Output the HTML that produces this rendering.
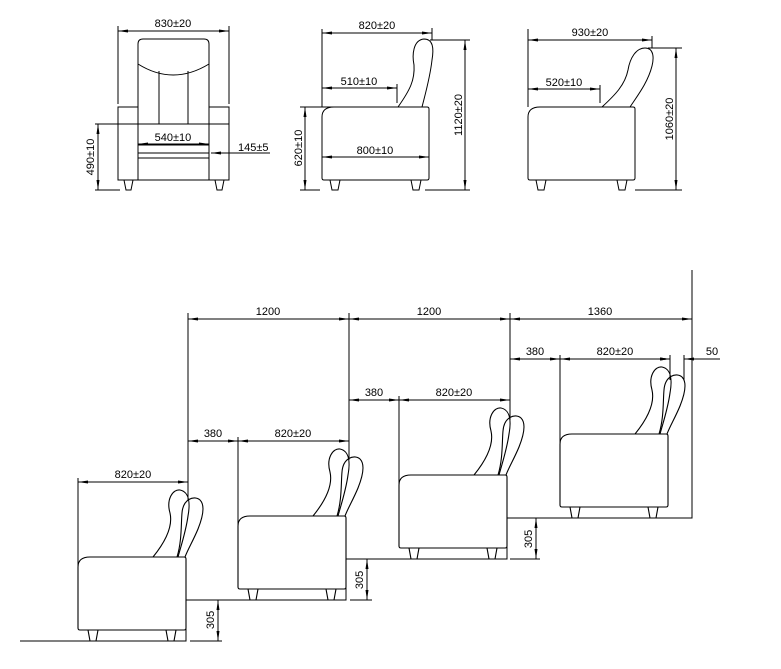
<!DOCTYPE html>
<html><head><meta charset="utf-8"><style>html,body{margin:0;padding:0;background:#fff}svg{display:block}text{font-family:"Liberation Sans",sans-serif;font-size:11px;fill:#000}</style></head><body>
<svg width="781" height="669" viewBox="0 0 781 669" xmlns="http://www.w3.org/2000/svg">
<defs>
<marker id="a" viewBox="0 0 10 4" refX="10" refY="2" markerWidth="10" markerHeight="4" orient="auto-start-reverse" markerUnits="userSpaceOnUse"><path d="M0,0.5 L10,2 L0,3.5z" fill="#000"/></marker>
<g id="chair" fill="none" stroke="#000" stroke-width="1.1">
<path d="M0,-74 Q0,-84 12,-84 L106,-84 Q108,-84 108,-82 L108,-13 Q108,-11 106,-11 L2,-11 Q0,-11 0,-13 Z"/>
<path d="M10,-11 L12,0 L18,0 L20,-11 M88,-11 L90,0 L96,0 L98,-11"/>
<path d="M75,-84 C88,-100 95,-115 92,-128 C88,-142 95,-152 102,-151 C112,-149 112,-136 110,-125 C108,-110 103,-95 100,-84"/>
<path d="M99,-84 C104,-100 103,-118 104,-128 C105,-142 116,-146 122,-141 C128,-135 124,-122 120,-112 C115,-100 110,-92 107,-84"/>
</g>
</defs>
<g fill="none" stroke="#000" stroke-width="1">
<!-- front view -->
<path d="M138,124 L138,44 Q138,39 143,39 L204,39 Q209,39 209,44 L209,124"/>
<path d="M138,64 Q173,86 209,64"/>
<path d="M159,71 L159,124 M188,71 L188,124"/>
<rect x="118" y="107" width="20" height="73"/><rect x="209" y="107" width="20" height="73"/>
<path d="M118,124 L138,124 M209,124 L229,124"/>
<path d="M138,124 L209,124 L209,180 L138,180 Z M138,145 L209,145 M138,153 L209,153 M138,158 L209,158"/>
<path d="M124,180 L126,190 L131,190 L133,180 M215,180 L217,190 L222,190 L224,180"/>
<path d="M118,104 L118,26 M229,104 L229,26"/>
<path d="M118,31 L229,31" marker-start="url(#a)" marker-end="url(#a)"/>
<path d="M95,124 L138,124 M95,190 L120,190"/>
<path d="M98,124 L98,190" marker-start="url(#a)" marker-end="url(#a)"/>
<path d="M138,144 L209,144" marker-start="url(#a)" marker-end="url(#a)"/>
<path d="M270,153 L211,153" marker-end="url(#a)"/>
<!-- side view 1 -->
<path d="M322,117 Q322,107 334,107 L427,107 Q429,107 429,109 L429,178 Q429,180 427,180 L324,180 Q322,180 322,178 Z"/>
<path d="M330,180 L332,190 L338,190 L340,180 M411,180 L413,190 L419,190 L421,180"/>
<path d="M398,107 C410,90 415,80 414,65 C412,55 413,40 424,39 C433,39 434,48 432,60 C430,78 425,95 422,107"/>
<path d="M322,107 L322,29 M432,40 L432,28 M397,84 L397,103"/>
<path d="M322,33 L432,33" marker-start="url(#a)" marker-end="url(#a)"/>
<path d="M322,88 L397,88" marker-start="url(#a)" marker-end="url(#a)"/>
<path d="M322,157 L429,157" marker-start="url(#a)" marker-end="url(#a)"/>
<path d="M300,107 L340,107 M300,190 L320,190"/>
<path d="M305,107 L305,190" marker-start="url(#a)" marker-end="url(#a)"/>
<path d="M430,40 L470,40 M425,190 L470,190"/>
<path d="M465,40 L465,190" marker-start="url(#a)" marker-end="url(#a)"/>
<!-- side view 2 -->
<path d="M528,117 Q528,107 540,107 L633,107 Q635,107 635,109 L635,178 Q635,180 633,180 L530,180 Q528,180 528,178 Z"/>
<path d="M536,180 L538,190 L544,190 L546,180 M617,180 L619,190 L625,190 L627,180"/>
<path d="M602,107 C615,95 625,85 628,70 C630,58 636,48 645,48 C654,48 654,58 652,66 C648,82 638,95 630,107"/>
<path d="M528,107 L528,29 M652,48 L652,36 M600,85 L600,103"/>
<path d="M528,40 L652,40" marker-start="url(#a)" marker-end="url(#a)"/>
<path d="M528,89 L600,89" marker-start="url(#a)" marker-end="url(#a)"/>
<path d="M648,48 L682,48 M635,190 L682,190"/>
<path d="M676,48 L676,190" marker-start="url(#a)" marker-end="url(#a)"/>
</g>
<text x="173" y="27" text-anchor="middle">830±20</text>
<text x="173" y="141" text-anchor="middle">540±10</text>
<text x="238" y="151">145±5</text>
<text transform="translate(94,157) rotate(-90)" text-anchor="middle">490±10</text>
<text x="377" y="29" text-anchor="middle">820±20</text>
<text x="359" y="85" text-anchor="middle">510±10</text>
<text x="375" y="154" text-anchor="middle">800±10</text>
<text transform="translate(302,148) rotate(-90)" text-anchor="middle">620±10</text>
<text transform="translate(462,115) rotate(-90)" text-anchor="middle">1120±20</text>
<text x="590" y="36" text-anchor="middle">930±20</text>
<text x="564" y="86" text-anchor="middle">520±10</text>
<text transform="translate(673,119) rotate(-90)" text-anchor="middle">1060±20</text>

<!-- bottom -->
<use href="#chair" transform="translate(78,641)"/>
<use href="#chair" transform="translate(238,600)"/>
<use href="#chair" transform="translate(399,559)"/>
<use href="#chair" transform="translate(560,518)"/>
<g fill="none" stroke="#000" stroke-width="1">
<path d="M20,641 L186,641 L186,600 L346,600 L346,559 L507,559 L507,518 L692,518 L692,270"/>
<path d="M190,641 L222,641 M350,600 L372,600 M510,559 L540,559 M346,600 L346,600"/>
<path d="M188,313 L188,500 M349,313 L349,460 M510,313 L510,420"/>
<path d="M188,319 L349,319" marker-start="url(#a)" marker-end="url(#a)"/>
<path d="M349,319 L510,319" marker-start="url(#a)" marker-end="url(#a)"/>
<path d="M510,319 L692,319" marker-start="url(#a)" marker-end="url(#a)"/>
<path d="M78,478 L78,570 M238,437 L238,528 M399,396 L399,488 M560,355 L560,447"/>
<path d="M78,482 L188,482" marker-start="url(#a)" marker-end="url(#a)"/>
<path d="M188,441 L238,441" marker-start="url(#a)" marker-end="url(#a)"/>
<path d="M238,441 L349,441" marker-start="url(#a)" marker-end="url(#a)"/>
<path d="M349,400 L399,400" marker-start="url(#a)" marker-end="url(#a)"/>
<path d="M399,400 L510,400" marker-start="url(#a)" marker-end="url(#a)"/>
<path d="M510,359 L560,359" marker-start="url(#a)" marker-end="url(#a)"/>
<path d="M560,359 L670,359" marker-start="url(#a)" marker-end="url(#a)"/>
<path d="M670,355 L670,380 M684,355 L684,380"/>
<path d="M658,359 L670,359" marker-end="url(#a)"/>
<path d="M720,359 L684,359" marker-end="url(#a)"/>
<path d="M218,600 L218,641" marker-start="url(#a)" marker-end="url(#a)"/>
<path d="M367,559 L367,600" marker-start="url(#a)" marker-end="url(#a)"/>
<path d="M536,518 L536,559" marker-start="url(#a)" marker-end="url(#a)"/>
</g>
<text x="268" y="315" text-anchor="middle">1200</text>
<text x="429" y="315" text-anchor="middle">1200</text>
<text x="600" y="315" text-anchor="middle">1360</text>
<text x="133" y="478" text-anchor="middle">820±20</text>
<text x="213" y="437" text-anchor="middle">380</text>
<text x="293" y="437" text-anchor="middle">820±20</text>
<text x="374" y="396" text-anchor="middle">380</text>
<text x="454" y="396" text-anchor="middle">820±20</text>
<text x="535" y="355" text-anchor="middle">380</text>
<text x="615" y="355" text-anchor="middle">820±20</text>
<text x="712" y="355" text-anchor="middle">50</text>
<text transform="translate(214,620) rotate(-90)" text-anchor="middle">305</text>
<text transform="translate(363,580) rotate(-90)" text-anchor="middle">305</text>
<text transform="translate(532,539) rotate(-90)" text-anchor="middle">305</text>
</svg>
</body></html>
